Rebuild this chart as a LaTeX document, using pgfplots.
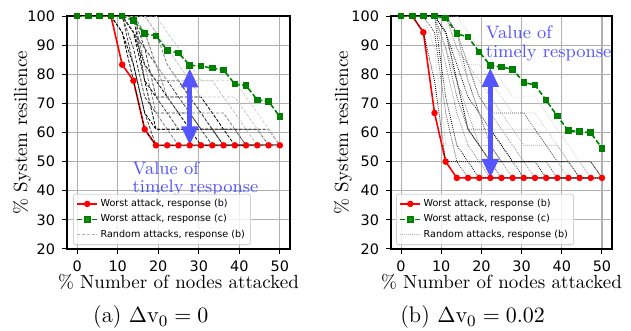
\documentclass[border=0pt]{standalone}
\usepackage{fontspec}
\usepackage{pgfplots}
\pgfplotsset{compat=1.18}
\usepackage{pgfplotstable}
\usetikzlibrary{arrows.meta}
\newfontfamily\dejavu{DejaVu Sans}
\definecolor{arrowblue}{RGB}{85,85,255}
\definecolor{mgreen}{RGB}{0,128,0}
\definecolor{gridgray}{RGB}{176,176,176}
\newcommand{\tickfont}{\dejavu\fontsize{7.2}{8}\selectfont}
\newcommand{\legfont}{\dejavu\fontsize{4.8}{5.5}\selectfont}

% worst attacks
\pgfplotstableread{
x      red   green
0      100   100
2.778  100   100
5.556  100   100
8.333  100   100
11.111 83.3  100
13.889 77.8  98.5
16.667 61.1  93.9
19.444 55.6  93.2
22.222 55.6  88.2
25     55.6  87.3
27.778 55.6  83.1
30.556 55.6  82.8
33.333 55.6  82.1
36.111 55.6  81.5
38.889 55.6  76.6
41.667 55.6  76.1
44.444 55.6  71.2
47.222 55.6  70.7
50     55.6  65.4
}\Lmain

\pgfplotstableread{
x      red   green
0      100   100
2.778  100   100
5.556  94.4  100
8.333  66.7  100
11.111 50    99.3
13.889 44.4  93.9
16.667 44.4  92.8
19.444 44.4  87.7
22.222 44.4  83.0
25     44.4  82.5
27.778 44.4  81.7
30.556 44.4  77.2
33.333 44.4  76.3
36.111 44.4  71.1
38.889 44.4  65.6
41.667 44.4  60.6
44.444 44.4  60.4
47.222 44.4  59.9
50     44.4  54.6
}\Rmain

% random attacks, left
\pgfplotstableread{
x      P    Qa   Qb   H    Da   Db   F    Ea   Dc   Dd   Eb   De   Df   G    Dg   Dh
0      100  100  100  100  100  100  100  100  100  100  100  100  100  100  100  100
2.778  100  100  100  100  100  100  100  100  100  100  100  100  100  100  100  100
5.556  100  100  100  100  100  100  100  100  100  100  100  100  100  100  100  100
8.333  100  100  100  100  100  100  100  100  100  100  100  100  100  100  100  100
11.111 100  94.4 100  100  100  100  100  94.4 100  100  100  100  100  100  100  100
13.889 100  77.8 83.3 100  94.4 100  100  83.3 94.4 94.4 88.9 100  100  94.4 100  100
16.667 77.8 61.1 66.7 83.3 83.3 88.9 100  66.7 83.3 77.8 72.2 94.4 94.4 88.9 100  100
19.444 61.1 55.6 55.6 66.7 77.8 83.3 94.4 61.1 77.8 72.2 66.7 83.3 83.3 72.2 94.4 100
22.222 61.1 55.6 55.6 61.1 72.2 77.8 83.3 61.1 77.8 72.2 66.7 77.8 72.2 66.7 88.9 94.4
25     61.1 55.6 55.6 55.6 66.7 72.2 77.8 61.1 77.8 72.2 61.1 77.8 66.7 66.7 83.3 88.9
27.778 61.1 55.6 55.6 55.6 61.1 66.7 72.2 61.1 72.2 72.2 61.1 77.8 66.7 66.7 77.8 83.3
30.556 61.1 55.6 55.6 55.6 55.6 61.1 66.7 61.1 66.7 72.2 61.1 77.8 66.7 61.1 72.2 77.8
33.333 61.1 55.6 55.6 55.6 55.6 55.6 61.1 61.1 61.1 66.7 61.1 77.8 66.7 61.1 72.2 77.8
36.111 61.1 55.6 55.6 55.6 55.6 55.6 55.6 55.6 55.6 61.1 61.1 72.2 66.7 61.1 72.2 77.8
38.889 61.1 55.6 55.6 55.6 55.6 55.6 55.6 55.6 55.6 55.6 61.1 66.7 61.1 61.1 72.2 77.8
41.667 61.1 55.6 55.6 55.6 55.6 55.6 55.6 55.6 55.6 55.6 55.6 61.1 55.6 61.1 66.7 72.2
44.444 61.1 55.6 55.6 55.6 55.6 55.6 55.6 55.6 55.6 55.6 55.6 55.6 55.6 61.1 61.1 66.7
47.222 61.1 55.6 55.6 55.6 55.6 55.6 55.6 55.6 55.6 55.6 55.6 55.6 55.6 55.6 55.6 61.1
50     55.6 55.6 55.6 55.6 55.6 55.6 55.6 55.6 55.6 55.6 55.6 55.6 55.6 55.6 55.6 55.6
}\Lrnd

% random attacks, right
\pgfplotstableread{
x      Ra   Rb   Rc   Rd   Re   Rf   Rq   Rg   Rh   Ri   Rp   Ro   Rn   Rj   Rk   Rl   Rm
0      100  100  100  100  100  100  100  100  100  100  100  100  100  100  100  100  100
2.778  100  100  100  100  100  100  100  100  100  100  100  100  100  100  100  100  100
5.556  94.4 100  100  100  100  100  100  100  100  100  100  100  100  100  100  100  100
8.333  77.8 88.9 94.4 100  100  100  100  100  100  100  100  100  100  100  100  100  100
11.111 50   55.6 66.7 72.2 83.3 88.9 88.9 94.4 94.4 100  100  100  94.4 100  88.9 100  100
13.889 50   55.6 50   55.6 66.7 72.2 77.8 77.8 83.3 88.9 94.4 88.9 77.8 94.4 88.9 100  94.4
16.667 50   55.6 44.4 50   55.6 61.1 66.7 61.1 72.2 83.3 77.8 77.8 61.1 83.3 83.3 94.4 83.3
19.444 50   55.6 44.4 44.4 50   55.6 55.6 61.1 66.7 72.2 66.7 66.7 55.6 83.3 77.8 88.9 72.2
22.222 50   55.6 44.4 44.4 44.4 50   55.6 61.1 61.1 66.7 55.6 61.1 50   77.8 72.2 83.3 66.7
25     50   55.6 44.4 44.4 44.4 44.4 50   55.6 55.6 61.1 50   61.1 50   72.2 66.7 77.8 66.7
27.778 50   55.6 44.4 44.4 44.4 44.4 44.4 50   50   55.6 50   61.1 50   66.7 61.1 72.2 66.7
30.556 50   55.6 44.4 44.4 44.4 44.4 44.4 44.4 50   50   50   61.1 50   66.7 55.6 72.2 66.7
33.333 50   55.6 44.4 44.4 44.4 44.4 44.4 44.4 50   44.4 50   61.1 50   66.7 55.6 72.2 61.1
36.111 50   55.6 44.4 44.4 44.4 44.4 44.4 44.4 44.4 44.4 50   55.6 50   61.1 55.6 66.7 55.6
38.889 50   55.6 44.4 44.4 44.4 44.4 44.4 44.4 44.4 44.4 44.4 50   50   55.6 55.6 61.1 50
41.667 50   50   44.4 44.4 44.4 44.4 44.4 44.4 44.4 44.4 44.4 44.4 50   50   50   55.6 50
44.444 50   44.4 44.4 44.4 44.4 44.4 44.4 44.4 44.4 44.4 44.4 44.4 44.4 50   50   50   50
47.222 50   44.4 44.4 44.4 44.4 44.4 44.4 44.4 44.4 44.4 44.4 44.4 44.4 44.4 44.4 50   50
50     44.4 44.4 44.4 44.4 44.4 44.4 44.4 44.4 44.4 44.4 44.4 44.4 44.4 44.4 44.4 44.4 44.4
}\Rrnd

\pgfplotsset{
  myax/.style={
    scale only axis, width=111.5pt, height=116.5pt,
    xmin=-2.5, xmax=52.5, ymin=20, ymax=100,
    xtick={0,10,...,50}, ytick={20,30,...,100},
    grid=major, major grid style={gridgray, line width=0.55pt},
    axis line style={black, line width=0.6pt},
    tick align=outside, tick pos=left, major tick length=2.5pt,
    tick style={black, line width=0.5pt},
    ticklabel style={font=\tickfont},
    /pgf/number format/assume math mode=true,
    xlabel={\% Number of nodes attacked}, ylabel={\% System resilience},
    label style={font=\fontsize{9.5}{11}\selectfont},
    xlabel style={at={(axis description cs:0.5,-0.1416)}, anchor=center},
    legend cell align=left,
    legend style={anchor=south west, font=\legfont, draw=gray!35,
      rounded corners=1pt, fill=white, fill opacity=0.8, text opacity=1,
      draw opacity=1, inner xsep=1.5pt, inner ysep=1pt,
      nodes={inner sep=1.3pt}},
    legend image code/.code={\draw[mark repeat=2,mark phase=2,##1]
      plot coordinates {(0pt,0pt) (5pt,0pt) (10pt,0pt)};},
  },
  rndL/.style={forget plot, line width=0.4pt, dash pattern=on 1.6pt off 0.8pt},
  rndR/.style={forget plot, line width=0.4pt, dash pattern=on 0.4pt off 0.6pt},
  worstb/.style={red, line width=0.8pt, mark=*, mark size=1.2pt, mark options={solid}},
  worstc/.style={mgreen, line width=0.8pt, dash pattern=on 2.5pt off 1.2pt,
    mark=square*, mark size=1.25pt, mark options={solid}},
}
\tikzset{
  arr/.style={arrowblue, line width=2.6pt,
    {Triangle[width=8pt,length=9.5pt]}-{Triangle[width=8pt,length=9.5pt]}},
}

\begin{document}
\begin{tikzpicture}
\path[use as bounding box] (0,0) rectangle (315.5pt,165.5pt);

\begin{axis}[myax, at={(33.5pt,41pt)}, anchor=south west,
  ylabel style={at={(axis description cs:-0.202,0.5)}, anchor=center},
  legend style={at={(0.027,0.017)}}]
\addplot[worstb] table[x=x,y=red]{\Lmain};
\addlegendentry{Worst attack, response (b)}
\addplot[rndL, black]        table[x=x,y=P]{\Lrnd};
\addplot[rndL, black]        table[x=x,y=Qa]{\Lrnd};
\addplot[rndL, black!75]     table[x=x,y=Qb]{\Lrnd};
\addplot[rndL, gray]         table[x=x,y=H]{\Lrnd};
\addplot[rndL, black]        table[x=x,y=Da]{\Lrnd};
\addplot[rndL, black!75]     table[x=x,y=Db]{\Lrnd};
\addplot[rndL, gray]         table[x=x,y=F]{\Lrnd};
\addplot[rndL, black]        table[x=x,y=Ea]{\Lrnd};
\addplot[rndL, black!70]     table[x=x,y=Dc]{\Lrnd};
\addplot[rndL, black]        table[x=x,y=Dd]{\Lrnd};
\addplot[rndL, black!75]     table[x=x,y=Eb]{\Lrnd};
\addplot[rndL, gray!50]      table[x=x,y=De]{\Lrnd};
\addplot[rndL, gray]         table[x=x,y=Df]{\Lrnd};
\addplot[rndL, black!75]     table[x=x,y=G]{\Lrnd};
\addplot[rndL, gray!45]      table[x=x,y=Dg]{\Lrnd};
\addplot[rndL, gray!35]      table[x=x,y=Dh]{\Lrnd};
\addplot[worstc] table[x=x,y=green]{\Lmain};
\addlegendentry{Worst attack, response (c)}
\addlegendimage{gray!60, line width=0.4pt, dash pattern=on 1.6pt off 0.8pt}
\addlegendentry{Random attacks, response (b)}
\draw[arr] (axis cs:27.778,55.6) -- (axis cs:27.778,82);
\node[anchor=west, align=left, text=arrowblue, font=\fontsize{9}{9.2}\selectfont,
  inner sep=0pt] at (axis cs:13.6,44.1) {Value of\\timely response};
\end{axis}

\begin{axis}[myax, at={(195.5pt,41pt)}, anchor=south west, width=110.5pt,
  ylabel style={at={(axis description cs:-0.217,0.5)}, anchor=center},
  legend style={at={(0.023,0.017)}}]
\addplot[worstb] table[x=x,y=red]{\Rmain};
\addlegendentry{Worst attack, response (b)}
\addplot[rndR, black]     table[x=x,y=Ra]{\Rrnd};
\addplot[rndR, gray!45]   table[x=x,y=Rb]{\Rrnd};
\addplot[rndR, black!80]  table[x=x,y=Rc]{\Rrnd};
\addplot[rndR, black]     table[x=x,y=Rd]{\Rrnd};
\addplot[rndR, gray]      table[x=x,y=Re]{\Rrnd};
\addplot[rndR, black!75]  table[x=x,y=Rf]{\Rrnd};
\addplot[rndR, gray]      table[x=x,y=Rq]{\Rrnd};
\addplot[rndR, black!80]  table[x=x,y=Rg]{\Rrnd};
\addplot[rndR, black]     table[x=x,y=Rh]{\Rrnd};
\addplot[rndR, gray]      table[x=x,y=Ri]{\Rrnd};
\addplot[rndR, black!70]  table[x=x,y=Rp]{\Rrnd};
\addplot[rndR, gray!70]   table[x=x,y=Ro]{\Rrnd};
\addplot[rndR, black]     table[x=x,y=Rn]{\Rrnd};
\addplot[rndR, gray!45]   table[x=x,y=Rj]{\Rrnd};
\addplot[rndR, gray!60]   table[x=x,y=Rk]{\Rrnd};
\addplot[rndR, gray!35]   table[x=x,y=Rl]{\Rrnd};
\addplot[rndR, black!65]  table[x=x,y=Rm]{\Rrnd};
\addplot[worstc] table[x=x,y=green]{\Rmain};
\addlegendentry{Worst attack, response (c)}
\addlegendimage{gray!60, line width=0.4pt, dash pattern=on 0.4pt off 0.6pt}
\addlegendentry{Random attacks, response (b)}
\draw[arr] (axis cs:22.222,44.4) -- (axis cs:22.222,82.2);
\node[anchor=west, align=left, text=arrowblue, font=\fontsize{9}{9.2}\selectfont,
  inner sep=0pt] at (axis cs:21.0,90.6) {Value of\\timely response};
\end{axis}

\node[anchor=base, font=\fontsize{11.3}{13}\selectfont] at (75.4pt,4pt) {(a) $\Delta\mathrm{v}_0 = 0$};
\node[anchor=base, font=\fontsize{11.3}{13}\selectfont] at (236.3pt,4pt) {(b) $\Delta\mathrm{v}_0 = 0.02$};
\end{tikzpicture}
\end{document}
